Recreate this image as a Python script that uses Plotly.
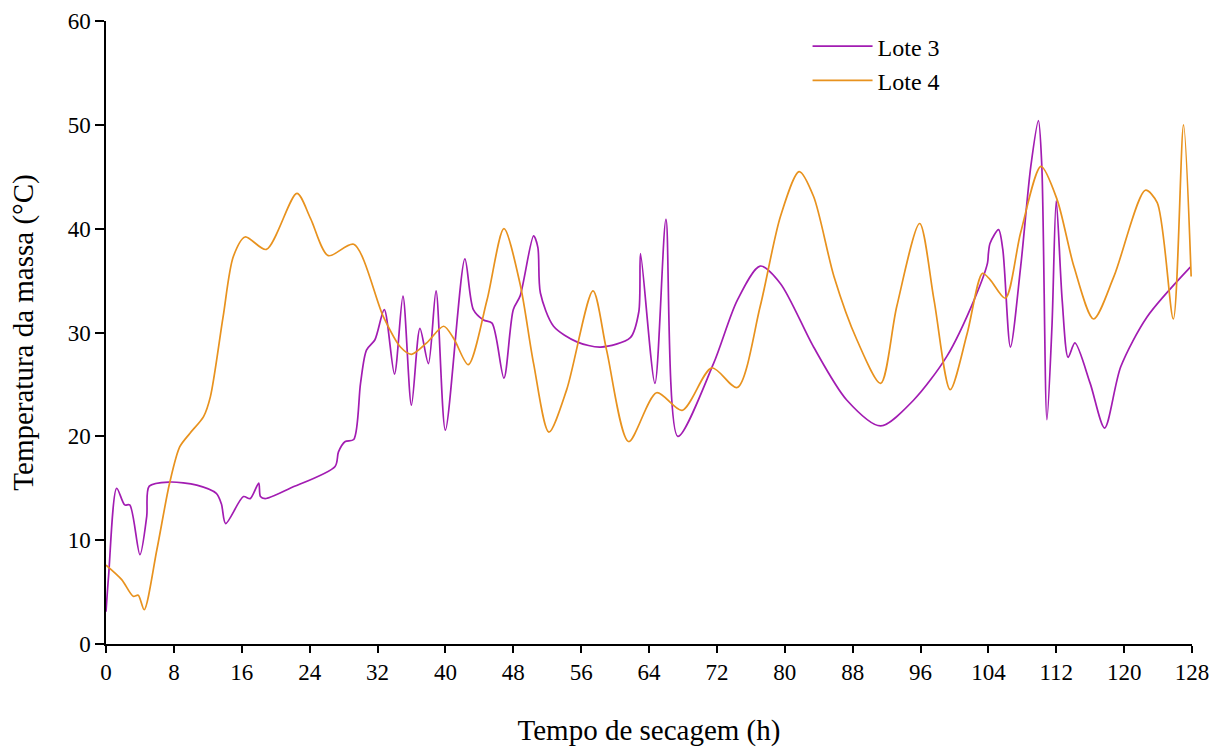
import plotly.graph_objects as go

# Lote 3 (purple)
lote3_x = [0, 0.3, 1.26, 2.2, 2.8, 4.0, 4.8, 5.1, 7.5, 10.7, 13.0, 13.6, 14.1, 16.2, 17.0,
           18.0, 18.2, 18.75, 21.7, 27.0, 27.4, 28.2, 29.2, 30.0, 30.7, 31.7, 32.8, 34.0, 35.0, 36.0,
           37.0, 38.0, 38.9, 40.0, 42.3, 43.3, 44.5, 45.5, 46.9, 48.0, 48.8, 50.4, 50.9, 51.2, 52.75,
           55.5, 58.3, 61.8, 62.8, 63.0, 64.7, 66.0, 67.4, 71.6, 74.4, 77.1, 79.5, 83.4, 87.3,
           91.3, 95.2, 99.1, 102.3, 103.9, 104.0, 104.2, 105.2, 105.7, 106.6, 107.8, 109.0, 109.9, 110.3, 110.9,
           111.5, 112.0, 112.7, 113.4, 114.2, 116.0, 117.7, 119.6, 122.7, 127.8]
lote3_y = [3.1, 6.5, 15.0, 13.4, 13.4, 8.6, 12.3, 15.2, 15.6, 15.3, 14.5, 13.5, 11.6, 14.2, 14.0,
           15.5, 14.2, 14.0, 15.0, 17.1, 18.5, 19.5, 19.7, 25.1, 28.3, 29.3, 32.2, 26.0, 33.5, 23.0,
           30.4, 27.0, 34.0, 20.6, 37.1, 32.2, 31.2, 30.9, 25.6, 32.2, 33.5, 39.3, 38.2, 33.8, 30.6,
           29.1, 28.6, 29.5, 32.0, 37.6, 25.1, 40.9, 20.0, 27.0, 33.1, 36.4, 34.7, 28.6, 23.5,
           21.0, 23.5, 27.7, 33.1, 36.7, 37.6, 38.6, 39.9, 38.0, 28.6, 36.3, 46.0, 50.4, 46.0, 21.6,
           30.7, 42.7, 33.1, 27.6, 29.0, 25.1, 20.8, 26.7, 31.5, 36.3]

# Lote 4 (orange)
lote4_x = [0, 1.85, 3.2, 3.8, 4.5, 6.0, 7.5, 8.7, 9.9, 11.5, 12.3, 13.8, 15.0, 16.4, 18.9,
           22.5, 24.1, 26.2, 29.2, 32.7, 34.7, 36.0, 37.8, 39.8, 41.0, 42.7, 44.9, 46.9, 48.8, 50.4,
           52.2, 54.3, 57.4, 59.0, 61.6, 64.9, 67.9, 71.4, 74.4, 77.1, 79.5, 81.7, 83.4, 85.8, 88.5,
           91.3, 93.2, 95.9, 97.6, 99.5, 101.5, 103.3, 104.2, 106.0, 107.8, 110.2, 112.1, 114.1, 116.4, 118.8,
           122.5, 123.9, 125.8, 127.0, 127.9]
lote4_y = [7.6, 6.2, 4.6, 4.7, 3.3, 9.1, 15.5, 19.0, 20.3, 21.9, 23.8, 31.5, 37.3, 39.2, 38.0,
           43.4, 41.0, 37.4, 38.5, 31.5, 28.6, 27.9, 29.0, 30.6, 29.4, 26.9, 33.1, 40.0, 34.7, 27.0,
           20.4, 24.5, 34.0, 28.3, 19.5, 24.2, 22.5, 26.6, 24.7, 32.5, 41.2, 45.5, 43.1, 35.4, 29.3,
           25.1, 32.5, 40.5, 33.1, 24.5, 29.9, 35.7, 35.1, 33.3, 39.6, 46.0, 42.8, 36.3, 31.3, 35.4,
           43.7, 42.5, 31.3, 50.0, 35.4]

x_ticks = list(range(0, 129, 8))
y_ticks = list(range(0, 61, 10))

FONT = "Liberation Serif"

fig = go.Figure()
fig.add_trace(go.Scatter(x=lote3_x, y=lote3_y, mode="lines", name="Lote 3",
                         line=dict(color="#A21CB2", width=1.7, shape="spline", smoothing=0.8)))
fig.add_trace(go.Scatter(x=lote4_x, y=lote4_y, mode="lines", name="Lote 4",
                         line=dict(color="#E8921E", width=1.7, shape="spline", smoothing=0.8)))

fig.update_layout(
    width=1223, height=747,
    margin=dict(l=106, r=31, t=21, b=103, autoexpand=False),
    paper_bgcolor="white", plot_bgcolor="white",
    font=dict(family=FONT, size=23, color="black"),
    showlegend=True,
    legend=dict(x=0.646, y=0.995, xanchor="left", yanchor="top",
                bgcolor="rgba(0,0,0,0)", font=dict(family=FONT, size=24),
                tracegroupgap=0, itemwidth=60),
    xaxis=dict(range=[0, 128], tickmode="array", tickvals=x_ticks, automargin=False,
               showgrid=False, zeroline=False, showline=True, linecolor="black", linewidth=1.5,
               ticks="outside", ticklen=7, tickwidth=1.5, tickcolor="black",
               tickfont=dict(family=FONT, size=23),
               title=dict(text="Tempo de secagem (h)", font=dict(family=FONT, size=29), standoff=40)),
    yaxis=dict(range=[0, 60], tickmode="array", tickvals=y_ticks, automargin=False,
               showgrid=False, zeroline=False, showline=True, linecolor="black", linewidth=1.5,
               ticks="outside", ticklen=9, tickwidth=1.5, tickcolor="black",
               tickfont=dict(family=FONT, size=23),
               title=dict(text="Temperatura da massa (°C)", font=dict(family=FONT, size=29), standoff=26)),
)

fig.write_html("out.html")
